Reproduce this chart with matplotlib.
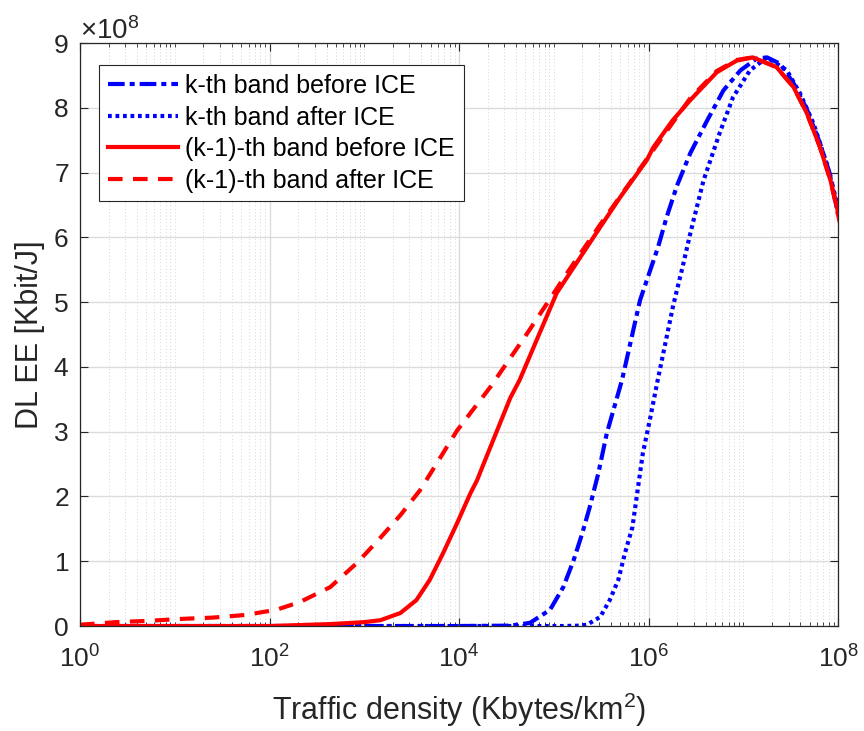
import matplotlib
matplotlib.use("Agg")
import matplotlib.pyplot as plt
import numpy as np
from matplotlib.ticker import ScalarFormatter, LogLocator, NullFormatter

plt.rcParams["font.family"] = ["Liberation Sans", "DejaVu Sans"]
plt.rcParams["mathtext.fontset"] = "custom"
plt.rcParams["mathtext.rm"] = "Liberation Sans"
plt.rcParams["mathtext.it"] = "Liberation Sans:italic"

# values: log10(traffic density) vs EE in units of 1e8
k_before_logx = [0, 2, 4, 4.5, 4.62, 4.75, 4.96, 5.10, 5.21, 5.30, 5.38, 5.47, 5.56, 5.65,
                 5.72, 5.91, 6.1, 6.19, 6.30, 6.44, 6.62, 6.79, 6.97, 7.14, 7.25, 7.39,
                 7.53, 7.67, 7.81, 7.92, 8.0]
k_before_y = [0, 0, 0, 0.005, 0.02, 0.05, 0.25, 0.6, 1.02, 1.43, 1.84, 2.36, 2.98, 3.44,
              3.8, 5.03, 5.85, 6.31, 6.8, 7.3, 7.81, 8.27, 8.58, 8.76, 8.78, 8.68,
              8.38, 7.98, 7.45, 6.95, 6.35]

k_after_logx = [0, 2, 4, 5.1, 5.25, 5.35, 5.49, 5.59, 5.68, 5.75, 5.83, 5.88, 5.94, 6.02,
                6.09, 6.26, 6.36, 6.44, 6.58, 6.75, 6.89, 7.07, 7.25, 7.46, 7.6, 7.74,
                7.88, 8.0]
k_after_y = [0, 0, 0, 0, 0.005, 0.02, 0.14, 0.4, 0.71, 1.12, 1.53, 2.05, 2.67, 3.23,
             3.75, 4.95, 5.55, 6.06, 6.88, 7.61, 8.16, 8.58, 8.78, 8.58, 8.22, 7.76,
             7.14, 6.47]

km1_before_logx = [0, 1, 2, 2.64, 3.0, 3.17, 3.38, 3.55, 3.69, 3.83, 3.98, 4.12, 4.19,
                   4.25, 4.54, 4.64, 5.03, 5.49, 5.70, 5.98, 6.05, 6.25, 6.44, 6.72,
                   6.93, 7.1, 7.35, 7.53, 7.67, 7.81, 7.92, 8.02]
km1_before_y = [0, 0, 0, 0.03, 0.06, 0.09, 0.2, 0.4, 0.71, 1.12, 1.59, 2.05, 2.25,
                2.47, 3.52, 3.8, 5.14, 6.16, 6.62, 7.19, 7.39, 7.8, 8.12, 8.55,
                8.73, 8.78, 8.63, 8.32, 7.92, 7.39, 6.88, 6.27]

km1_after_logx = [0, 0.38, 0.72, 1.07, 1.4, 1.74, 2.07, 2.32, 2.64, 2.92, 3.15, 3.38,
                  3.59, 3.98, 4.33, 4.72, 5.14, 5.5, 6.0, 6.44, 6.72, 6.93, 7.1, 7.35,
                  7.53, 7.67, 7.81, 7.92, 8.02]
km1_after_y = [0.02, 0.06, 0.08, 0.11, 0.13, 0.17, 0.25, 0.37, 0.6, 0.97, 1.33, 1.71,
               2.10, 3.02, 3.69, 4.52, 5.45, 6.22, 7.25, 8.15, 8.57, 8.74, 8.78, 8.63,
               8.32, 7.92, 7.39, 6.88, 6.22]

fig = plt.figure(figsize=(8.64, 7.31), dpi=100)
ax = fig.add_axes([0.0926, 0.1436, 0.8774, 0.7974])

lw = 3.0
ax.plot(10 ** np.array(k_before_logx), np.array(k_before_y) * 1e8, color="blue",
        lw=lw, dashes=(4, 1.2, 1.2, 1.2), label="k-th band before ICE")
ax.plot(10 ** np.array(k_after_logx), np.array(k_after_y) * 1e8, color="blue",
        lw=lw, dashes=(0.9, 0.9), label="k-th band after ICE")
ax.plot(10 ** np.array(km1_before_logx), np.array(km1_before_y) * 1e8, color="red",
        lw=lw, ls="-", label="(k-1)-th band before ICE")
ax.plot(10 ** np.array(km1_after_logx), np.array(km1_after_y) * 1e8, color="red",
        lw=lw, dashes=(3.5, 2.5), label="(k-1)-th band after ICE")

ax.set_xscale("log")
ax.set_xlim(1, 1e8)
ax.set_ylim(0, 9e8)
ax.set_xticks([1, 1e2, 1e4, 1e6, 1e8])
ax.xaxis.set_minor_locator(LogLocator(base=10, subs=np.arange(1, 10), numticks=100))
ax.xaxis.set_minor_formatter(NullFormatter())
ax.set_yticks(np.arange(0, 10) * 1e8)

fmt = ScalarFormatter(useMathText=True)
fmt.set_powerlimits((0, 0))
ax.yaxis.set_major_formatter(fmt)
ax.yaxis.get_offset_text().set_fontsize(20)
ax.yaxis.get_offset_text().set_color("#262626")

ax.tick_params(axis="both", which="both", direction="in", top=True, right=True,
               labelsize=19, colors="#262626")
ax.tick_params(which="major", length=6, width=0.8)
ax.tick_params(which="minor", length=3, width=0.6)
ax.tick_params(axis="x", pad=14)
ax.tick_params(axis="y", pad=8)

ax.grid(True, which="major", color="#dcdcdc", lw=1.0)
ax.grid(True, which="minor", axis="x", color="#c8c8c8", lw=0.6, ls=(0, (1, 3)))
ax.set_axisbelow(True)
for s in ax.spines.values():
    s.set_color("#262626")
    s.set_linewidth(0.9)

ax.set_xlabel("Traffic density (Kbytes/km$^2$)", fontsize=22, color="#262626", labelpad=13)
ax.set_ylabel("DL EE [Kbit/J]", fontsize=22, color="#262626", labelpad=6)

leg = ax.legend(loc="upper left", bbox_to_anchor=(0.025, 0.962), fontsize=18,
                frameon=True, fancybox=False, edgecolor="#262626", framealpha=1,
                borderaxespad=0, handlelength=2.8, handletextpad=0.3, labelspacing=0.3,
                borderpad=0.35)
leg.get_frame().set_linewidth(0.8)

fig.savefig("out.png", dpi=100)
